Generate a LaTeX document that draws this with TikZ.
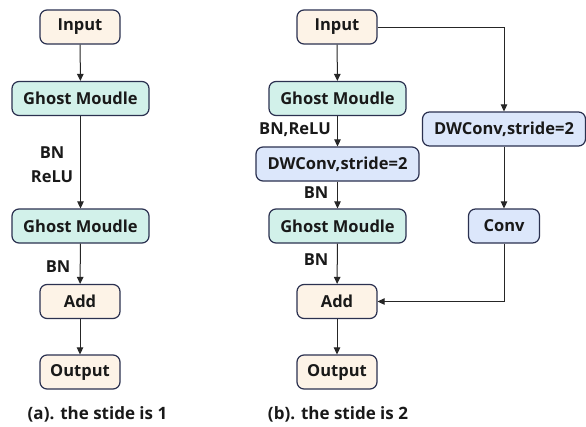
\documentclass[tikz,border=0pt]{standalone}
\usepackage{fontspec}
\setmainfont{Open Sans}
\usetikzlibrary{arrows.meta}
\definecolor{edge}{HTML}{2B3150}
\definecolor{peach}{HTML}{FDF3E7}
\definecolor{mint}{HTML}{D2F1EA}
\definecolor{sky}{HTML}{DCE7FB}
\tikzset{
  box/.style={draw=edge, line width=1.2pt, rounded corners=7pt, inner sep=0pt,
    font=\bfseries\fontsize{16.5}{18}\selectfont, text=black!90, minimum height=34pt},
  io/.style={box, fill=peach, minimum width=80pt},
  ghost/.style={box, fill=mint, minimum width=137pt},
  dw/.style={box, fill=sky, minimum width=163pt},
  cv/.style={box, fill=sky, minimum width=71pt},
  flow/.style={draw=black!85, line width=1pt, -{Triangle[length=7pt,width=6.5pt]}},
  lbl/.style={font=\bfseries\fontsize{16.5}{18}\selectfont, text=black!90, inner sep=0pt},
  captext/.style={font=\bfseries\fontsize{17}{19}\selectfont, text=black!90, inner sep=0pt}
}
\begin{document}
\begin{tikzpicture}[x=1pt, y=-1pt]
\useasboundingbox[fill=white] (0,0) rectangle (586,426);

% stride 1 block
\node[io]    (inA)  at (80,27)    {Input};
\node[ghost] (gA1)  at (80.5,98.5) {Ghost Moudle};
\node[ghost] (gA2)  at (80.5,226)  {Ghost Moudle};
\node[io]    (addA) at (80,301.5) {Add};
\node[io]    (outA) at (80,372)   {Output};
\draw[flow] (inA) -- (gA1);
\draw[flow] (gA1) -- (gA2);
\draw[flow] (gA2) -- (addA);
\draw[flow] (addA) -- (outA);
\node[lbl] (bnA1)   at (52,153) {BN};
\node[lbl] (reluA)  at (52,177) {ReLU};
\node[lbl] (bnA2)   at (58,267) {BN};
\node[captext] (capA) at (97.5,414) {(a). the stide is 1};

% stride 2 block
\node[io]    (inB)  at (337,27)    {Input};
\node[ghost] (gB1)  at (337.5,98.5) {Ghost Moudle};
\node[dw]    (dwB)  at (337.5,164)  {DWConv,stride=2};
\node[ghost] (gB2)  at (337.5,226)  {Ghost Moudle};
\node[io]    (addB) at (337,301.5) {Add};
\node[io]    (outB) at (337,372)   {Output};
\node[dw]    (dwS)  at (504,129)   {DWConv,stride=2};
\node[cv]    (conv) at (504,226)   {Conv};
\draw[flow] (inB) -- (gB1);
\draw[flow] (gB1) -- (dwB);
\draw[flow] (dwB) -- (gB2);
\draw[flow] (gB2) -- (addB);
\draw[flow] (addB) -- (outB);
\draw[flow] (inB.east) -| (dwS.north);
\draw[flow] (dwS) -- (conv);
\draw[flow] (conv.south) |- (addB.east);
\node[lbl] (bnrB) at (295,130) {BN,ReLU};
\node[lbl] (bnB1) at (316,193) {BN};
\node[lbl] (bnB2) at (316,260) {BN};
\node[captext] (capB) at (338,414) {(b). the stide is 2};
\end{tikzpicture}
\end{document}
